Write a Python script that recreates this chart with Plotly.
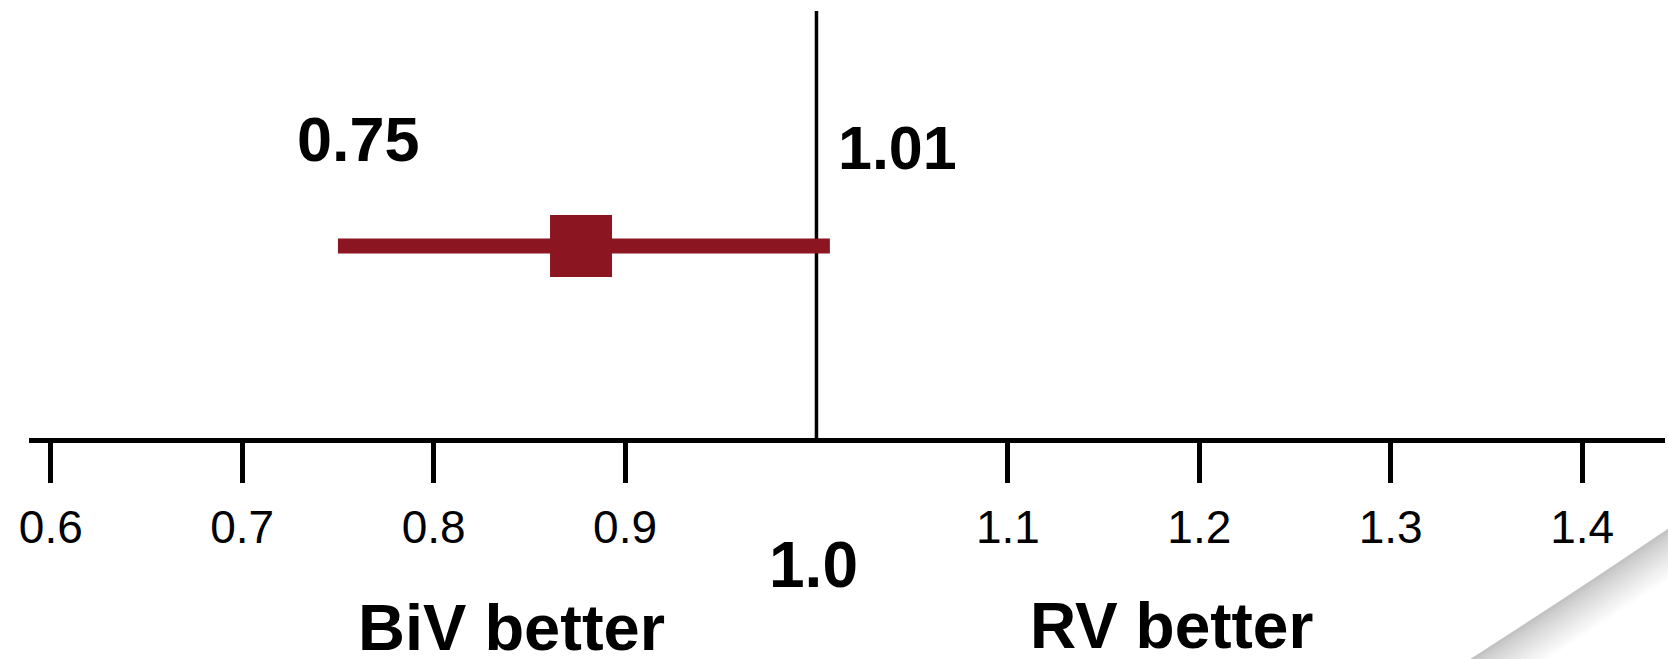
import plotly.graph_objects as go

# Data
row = [1]
point_estimate = [0.877]
ci_lower = [0.75]
ci_upper = [1.007]
ci_lower_label = "0.75"
ci_upper_label = "1.01"
tick_values = [0.6, 0.7, 0.8, 0.9, 1.1, 1.2, 1.3, 1.4]
tick_labels = ["0.6", "0.7", "0.8", "0.9", "1.1", "1.2", "1.3", "1.4"]
null_value = 1.0
null_label = "1.0"
left_label = "BiV better"
right_label = "RV better"

RED = "#8B1520"
FONT = "Liberation Sans, Arial, Helvetica, sans-serif"
W, H = 1668, 659
ML, MR, MT, MB = 29, 3, 11, 221
PW, PH = W - ML - MR, H - MT - MB

fig = go.Figure()

# Confidence interval line
fig.add_trace(go.Scatter(
    x=[ci_lower[0], ci_upper[0]], y=[row[0], row[0]],
    mode="lines", line=dict(color=RED, width=15),
    hoverinfo="skip", showlegend=False,
))
# Point estimate
fig.add_trace(go.Scatter(
    x=point_estimate, y=row, mode="markers",
    marker=dict(symbol="square", size=62, color=RED, line=dict(width=0)),
    showlegend=False,
))

# Null line
fig.add_shape(type="line", xref="x", yref="paper", x0=null_value, x1=null_value,
              y0=0, y1=1, line=dict(color="black", width=3.5), layer="below")

# Decorative page-curl shadow in the bottom-right corner (soft stepped gradient)
def px(x, y):
    return (x - ML) / PW, (MT + PH - y) / PH

n_steps = 14
for i in range(n_steps + 1):
    t = i / n_steps
    g = int(round(195 + (255 - 195) * (t ** 0.8)))
    col = f"rgb({g},{g},{g})"
    d = i * 3.0
    dx, dy = d * 0.62, d * 0.78
    p0 = px(1672 + dx, 526 + dy)
    pc = px(1575 + dx, 592 + dy)
    p1 = px(1464 + dx, 663 + dy)
    p2 = px(1780, 780)
    p3 = px(1780, 500)
    path = (f"M {p0[0]},{p0[1]} Q {pc[0]},{pc[1]} {p1[0]},{p1[1]} "
            f"L {p2[0]},{p2[1]} L {p3[0]},{p3[1]} Z")
    fig.add_shape(type="path", xref="paper", yref="paper", path=path,
                  fillcolor=col, line=dict(width=0), layer="below")

# CI annotations
fig.add_annotation(x=ci_lower[0], y=row[0], text=f"<b>{ci_lower_label}</b>",
                   showarrow=False, xanchor="center", yanchor="middle",
                   xshift=21, yshift=107, font=dict(size=63, color="black", family=FONT))
fig.add_annotation(x=ci_upper[0], y=row[0], text=f"<b>{ci_upper_label}</b>",
                   showarrow=False, xanchor="left", yanchor="middle",
                   xshift=6, yshift=98, font=dict(size=61, color="black", family=FONT))

# Null label and direction labels
fig.add_annotation(x=null_value, y=0, yref="paper", text=f"<b>{null_label}</b>",
                   showarrow=False, xanchor="center", yanchor="middle",
                   xshift=-3, yshift=-127, font=dict(size=64, color="black", family=FONT))
fig.add_annotation(x=0.8, y=0, yref="paper", text=f"<b>{left_label}</b>",
                   showarrow=False, xanchor="center", yanchor="middle",
                   xshift=78, yshift=-189, font=dict(size=65, color="black", family=FONT))
fig.add_annotation(x=1.2, y=0, yref="paper", text=f"<b>{right_label}</b>",
                   showarrow=False, xanchor="center", yanchor="middle",
                   xshift=-28, yshift=-188, font=dict(size=64, color="black", family=FONT))

fig.update_xaxes(
    range=[0.5886, 1.4433], showgrid=False, zeroline=False,
    showline=True, linecolor="black", linewidth=5,
    tickmode="array", tickvals=tick_values, ticktext=tick_labels,
    ticks="outside", ticklen=40, tickwidth=4.5, tickcolor="black",
    ticklabelstandoff=5,
    tickfont=dict(size=46, color="black", family=FONT),
)
fig.update_yaxes(range=[0, 2.224], visible=False, showgrid=False, zeroline=False)

fig.update_layout(
    width=W, height=H,
    margin=dict(l=ML, r=MR, t=MT, b=MB),
    paper_bgcolor="white", plot_bgcolor="rgba(0,0,0,0)",
    showlegend=False,
)

fig.write_html("out.html", config={"displayModeBar": False},
               post_script="document.body.style.margin='0';document.body.style.overflow='hidden';")
